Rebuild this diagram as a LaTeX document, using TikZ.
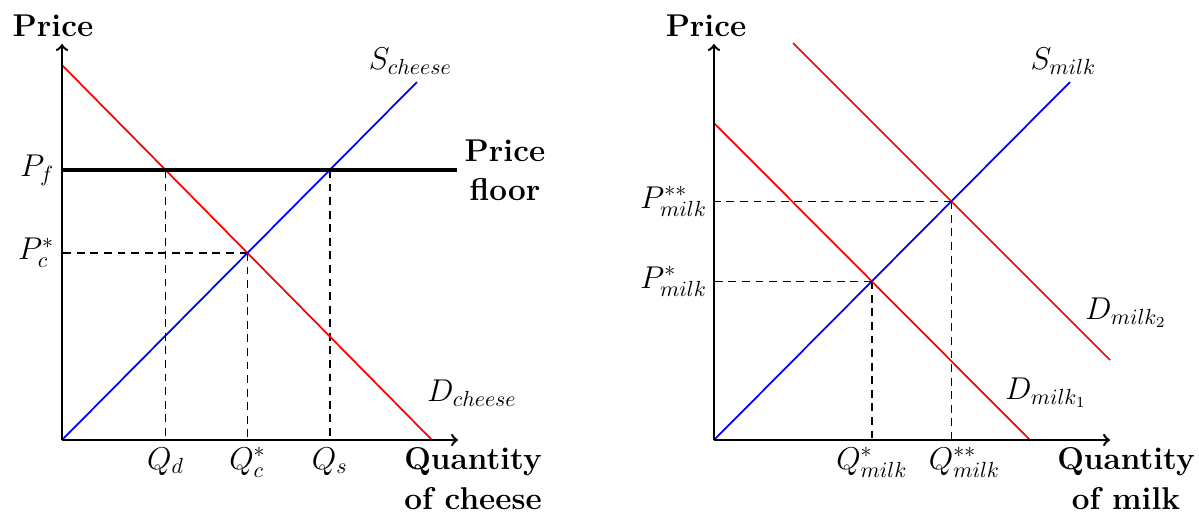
\documentclass[tikz,border=0pt]{standalone}
\begin{document}
\begin{tikzpicture}[x=0.457pt,y=-0.457pt,font=\Large,
  axis/.style={line width=1.1pt,->},
  demand/.style={red,line width=0.8pt},
  supply/.style={blue,line width=0.8pt},
  guide/.style={dash pattern=on 3.6pt off 2.6pt,line width=0.7pt},
  floorline/.style={line width=1.5pt},
  lbl/.style={font=\Large\bfseries,align=center}]
\useasboundingbox (0,0) rectangle (1199,519);
% ---------- left graph ----------
\coordinate (O1) at (62,440);
\coordinate (Y1) at (62,44);
\coordinate (X1) at (458,440);
\coordinate (Da) at (62,65);
\coordinate (Db) at (432,440);
\coordinate (Sa) at (62,440);
\coordinate (Sb) at (417,82);
\coordinate (Fa) at (62,170);
\coordinate (Fb) at (457,170);
\coordinate (Qd) at (intersection of Fa--Fb and Da--Db);
\coordinate (Qs) at (intersection of Fa--Fb and Sa--Sb);
\coordinate (E1) at (intersection of Da--Db and Sa--Sb);
\draw[guide] (Qd) -- (Qd |- O1);
\draw[guide] (Qs) -- (Qs |- O1);
\draw[guide] (E1) -- (E1 |- O1);
\draw[guide] (E1) -- (E1 -| O1);
\draw[demand] (Da) -- (Db);
\draw[supply] (Sa) -- (Sb);
\draw[floorline] (Fa) -- (Fb);
\draw[axis] (O1) -- (Y1);
\draw[axis] (O1) -- (X1);
\node[lbl] (p1) at (53,26) {Price};
\node[left] (pf) at (Fa) {$P_f$};
\node[left] (pc) at (E1 -| O1) {$P^*_c$};
\node[below] (qdl) at (Qd |- O1) {$Q_d$};
\node[below] (qcl) at (E1 |- O1) {$Q^*_c$};
\node[below] (qsl) at (Qs |- O1) {$Q_s$};
\node[lbl,anchor=north] (qx1) at (473,440) {Quantity\\of cheese};
\node[lbl,right] (pfl) at (Fb) {Price\\floor};
\node[above,xshift=-3pt] (sl1) at (Sb) {$S_{cheese}$};
\node (dl1) at (472,393) {$D_{cheese}$};
% ---------- right graph ----------
\coordinate (O2) at (714,440);
\coordinate (Y2) at (714,44);
\coordinate (X2) at (1110,440);
\coordinate (Aa) at (714,123);
\coordinate (Ab) at (1030,440);
\coordinate (Ba) at (793,43);
\coordinate (Bb) at (1110,360);
\coordinate (Ta) at (714,440);
\coordinate (Tb) at (1070,82);
\coordinate (E2) at (intersection of Aa--Ab and Ta--Tb);
\coordinate (E3) at (intersection of Ba--Bb and Ta--Tb);
\draw[guide] (E2) -- (E2 |- O2);
\draw[guide] (E2) -- (E2 -| O2);
\draw[guide] (E3) -- (E3 |- O2);
\draw[guide] (E3) -- (E3 -| O2);
\draw[demand] (Aa) -- (Ab);
\draw[demand] (Ba) -- (Bb);
\draw[supply] (Ta) -- (Tb);
\draw[axis] (O2) -- (Y2);
\draw[axis] (O2) -- (X2);
\node[lbl] (p2) at (706,26) {Price};
\node[anchor=east,inner sep=1pt] (pm2) at ([xshift=-2pt]E3 -| O2) {$P^{**}_{milk}$};
\node[anchor=east,inner sep=1pt] (pm1) at ([xshift=-2pt]E2 -| O2) {$P^{*}_{milk}$};
\node[below] (qm1) at (E2 |- O2) {$Q^{*}_{milk}$};
\node[below,xshift=6pt] (qm2) at (E3 |- O2) {$Q^{**}_{milk}$};
\node[lbl,anchor=north] (qx2) at (1126,440) {Quantity\\of milk};
\node[above,xshift=-3pt] (sl2) at (Tb) {$S_{milk}$};
\node (dl2) at (1126,313) {$D_{milk_2}$};
\node (dl3) at (1046,393) {$D_{milk_1}$};
\end{tikzpicture}
\end{document}
